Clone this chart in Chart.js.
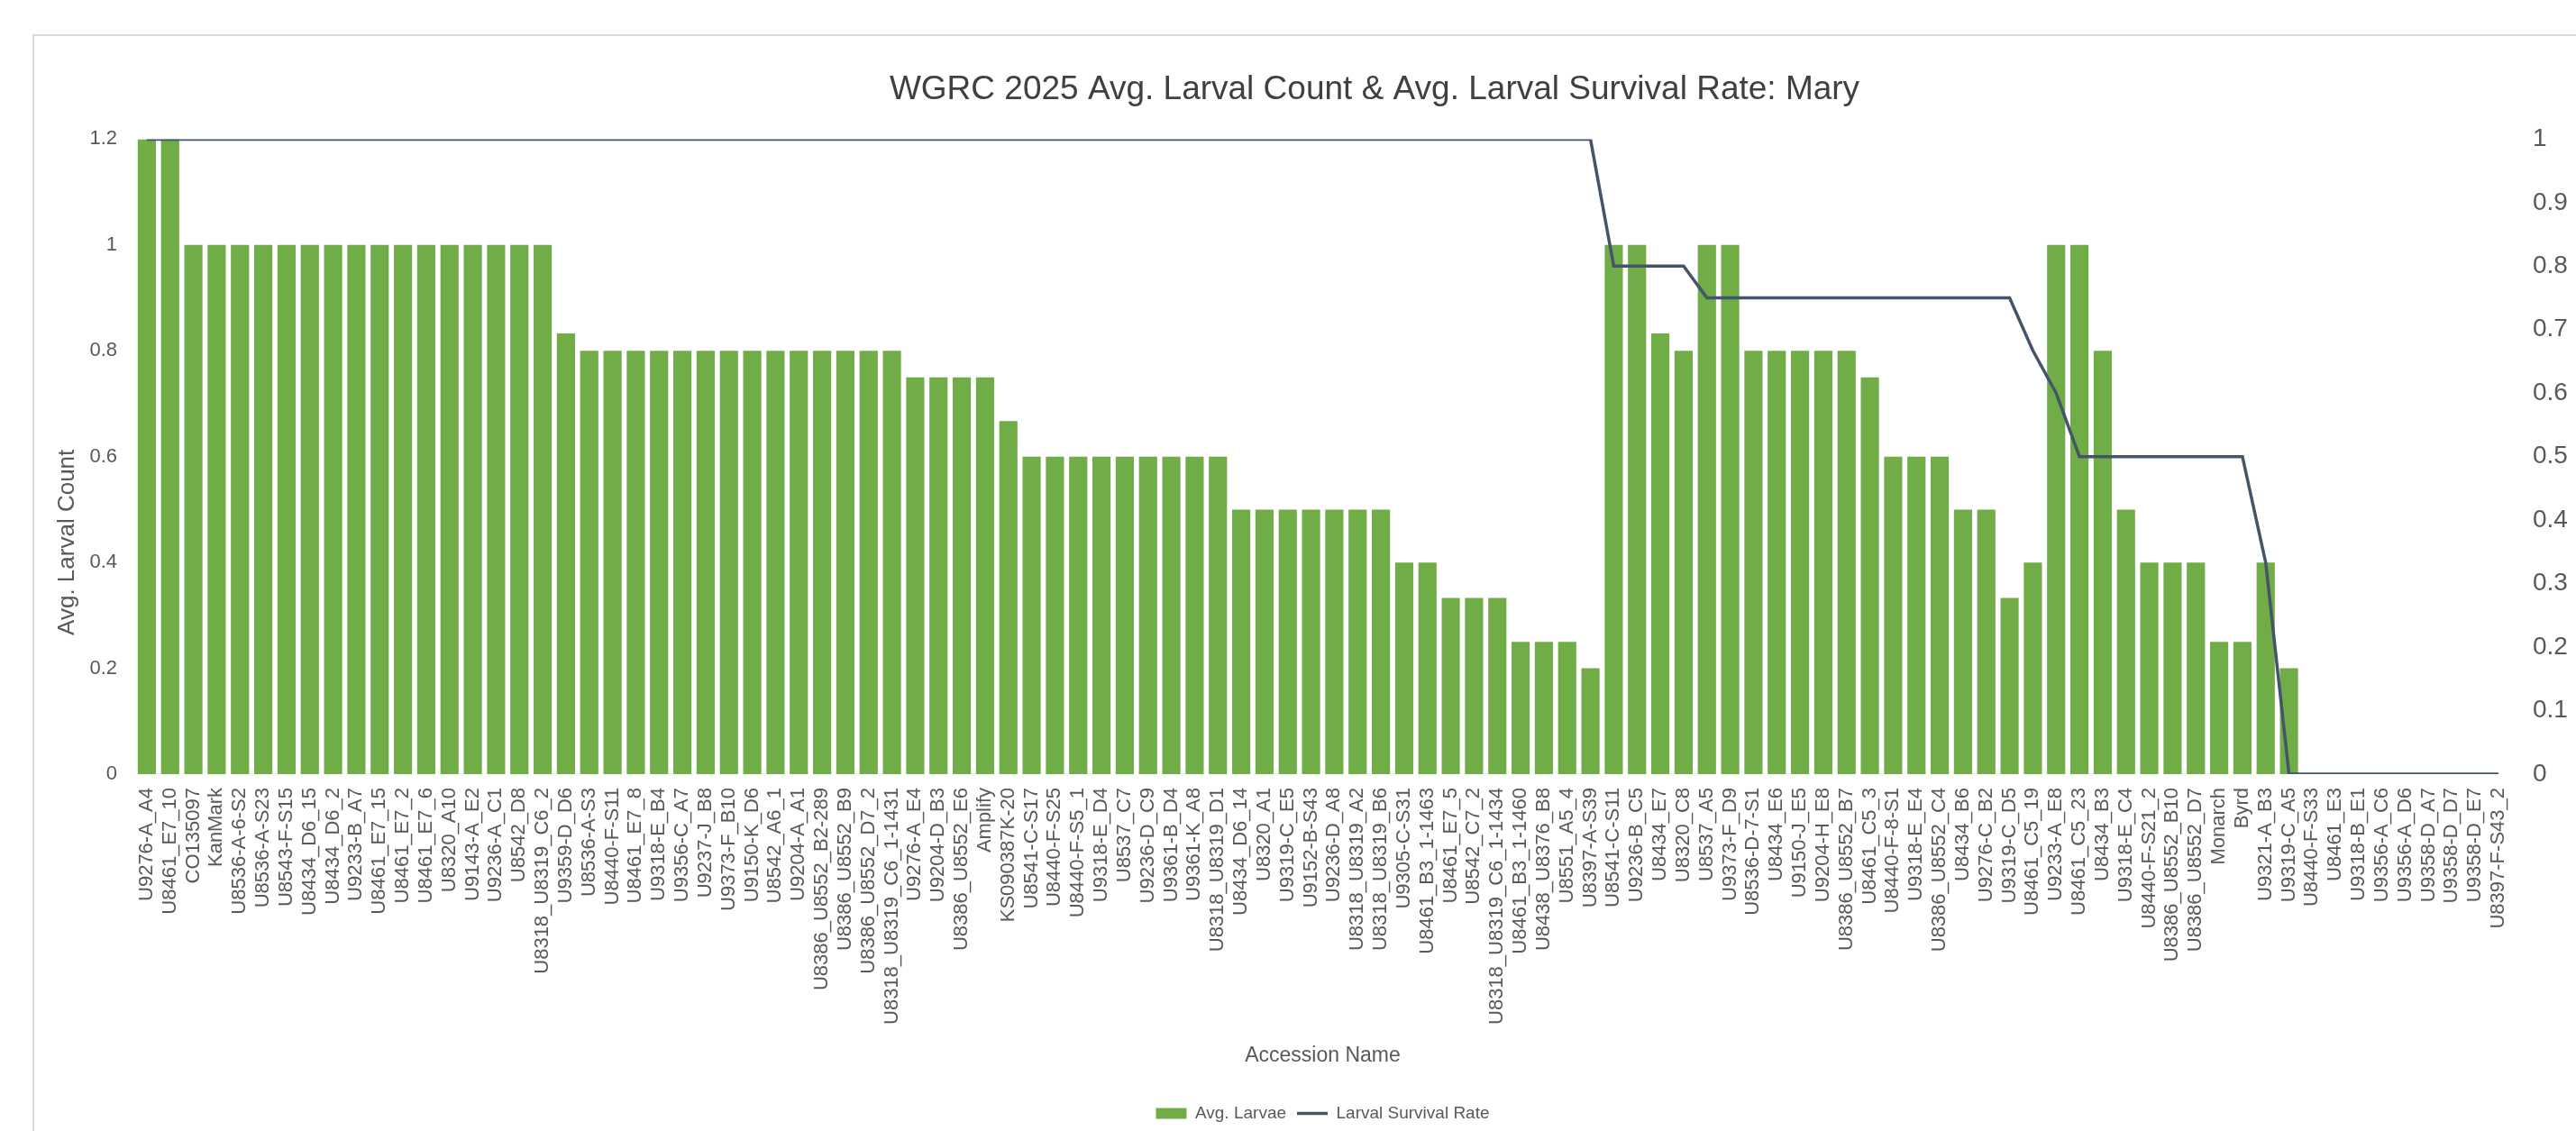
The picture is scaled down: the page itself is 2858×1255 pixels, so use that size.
<!DOCTYPE html>
<html>
<head>
<meta charset="utf-8">
<title>WGRC 2025 - Mary</title>
<script src="https://cdn.jsdelivr.net/npm/chart.js@4.4.1/dist/chart.umd.min.js"></script>
<style>
  html, body { margin: 0; padding: 0; background: #fff; overflow: hidden; }
  #marco {
    position: absolute;
    left: 36px;
    top: 38px;
    width: 3000px;
    height: 1300px;
    border: 2px solid #d9d9d9;
  }
  #grafico { position: absolute; left: 0; top: 0; }
</style>
</head>
<body>
<div id="marco">
  <canvas id="grafico" width="2974" height="1215"></canvas>
</div>
<script>
// nombres de accesiones, en el orden del grafico
const accesiones = [
  'U9276-A_A4', 'U8461_E7_10', 'CO135097', 'KanMark', 'U8536-A-6-S2', 'U8536-A-S23',
  'U8543-F-S15', 'U8434_D6_15', 'U8434_D6_2', 'U9233-B_A7', 'U8461_E7_15', 'U8461_E7_2',
  'U8461_E7_6', 'U8320_A10', 'U9143-A_E2', 'U9236-A_C1', 'U8542_D8', 'U8318_U8319_C6_2',
  'U9359-D_D6', 'U8536-A-S3', 'U8440-F-S11', 'U8461_E7_8', 'U9318-E_B4', 'U9356-C_A7',
  'U9237-J_B8', 'U9373-F_B10', 'U9150-K_D6', 'U8542_A6_1', 'U9204-A_A1', 'U8386_U8552_B2-289',
  'U8386_U8552_B9', 'U8386_U8552_D7_2', 'U8318_U8319_C6_1-1431', 'U9276-A_E4', 'U9204-D_B3', 'U8386_U8552_E6',
  'Amplify', 'KS090387K-20', 'U8541-C-S17', 'U8440-F-S25', 'U8440-F-S5_1', 'U9318-E_D4',
  'U8537_C7', 'U9236-D_C9', 'U9361-B_D4', 'U9361-K_A8', 'U8318_U8319_D1', 'U8434_D6_14',
  'U8320_A1', 'U9319-C_E5', 'U9152-B-S43', 'U9236-D_A8', 'U8318_U8319_A2', 'U8318_U8319_B6',
  'U9305-C-S31', 'U8461_B3_1-1463', 'U8461_E7_5', 'U8542_C7_2', 'U8318_U8319_C6_1-1434', 'U8461_B3_1-1460',
  'U8438_U8376_B8', 'U8551_A5_4', 'U8397-A-S39', 'U8541-C-S11', 'U9236-B_C5', 'U8434_E7',
  'U8320_C8', 'U8537_A5', 'U9373-F_D9', 'U8536-D-7-S1', 'U8434_E6', 'U9150-J_E5',
  'U9204-H_E8', 'U8386_U8552_B7', 'U8461_C5_3', 'U8440-F-8-S1', 'U9318-E_E4', 'U8386_U8552_C4',
  'U8434_B6', 'U9276-C_B2', 'U9319-C_D5', 'U8461_C5_19', 'U9233-A_E8', 'U8461_C5_23',
  'U8434_B3', 'U9318-E_C4', 'U8440-F-S21_2', 'U8386_U8552_B10', 'U8386_U8552_D7', 'Monarch',
  'Byrd', 'U9321-A_B3', 'U9319-C_A5', 'U8440-F-S33', 'U8461_E3', 'U9318-B_E1',
  'U9356-A_C6', 'U9356-A_D6', 'U9358-D_A7', 'U9358-D_D7', 'U9358-D_E7', 'U8397-F-S43_2'
];

// promedio de larvas (eje izquierdo)
const promedioLarvas = [
  1.2, 1.2, 1, 1, 1, 1,
  1, 1, 1, 1, 1, 1,
  1, 1, 1, 1, 1, 1,
  0.833, 0.8, 0.8, 0.8, 0.8, 0.8,
  0.8, 0.8, 0.8, 0.8, 0.8, 0.8,
  0.8, 0.8, 0.8, 0.75, 0.75, 0.75,
  0.75, 0.667, 0.6, 0.6, 0.6, 0.6,
  0.6, 0.6, 0.6, 0.6, 0.6, 0.5,
  0.5, 0.5, 0.5, 0.5, 0.5, 0.5,
  0.4, 0.4, 0.333, 0.333, 0.333, 0.25,
  0.25, 0.25, 0.2, 1, 1, 0.833,
  0.8, 1, 1, 0.8, 0.8, 0.8,
  0.8, 0.8, 0.75, 0.6, 0.6, 0.6,
  0.5, 0.5, 0.333, 0.4, 1, 1,
  0.8, 0.5, 0.4, 0.4, 0.4, 0.25,
  0.25, 0.4, 0.2, 0, 0, 0,
  0, 0, 0, 0, 0, 0
];

// tasa de supervivencia larval (eje derecho, 0-1)
const tasaSupervivencia = [
  1, 1, 1, 1, 1, 1,
  1, 1, 1, 1, 1, 1,
  1, 1, 1, 1, 1, 1,
  1, 1, 1, 1, 1, 1,
  1, 1, 1, 1, 1, 1,
  1, 1, 1, 1, 1, 1,
  1, 1, 1, 1, 1, 1,
  1, 1, 1, 1, 1, 1,
  1, 1, 1, 1, 1, 1,
  1, 1, 1, 1, 1, 1,
  1, 1, 1, 0.8, 0.8, 0.8,
  0.8, 0.75, 0.75, 0.75, 0.75, 0.75,
  0.75, 0.75, 0.75, 0.75, 0.75, 0.75,
  0.75, 0.75, 0.75, 0.667, 0.6, 0.5,
  0.5, 0.5, 0.5, 0.5, 0.5, 0.5,
  0.5, 0.333, 0, 0, 0, 0,
  0, 0, 0, 0, 0, 0
];

const VERDE = '#70AD47';
const AZUL_GRIS = '#44546A';
const GRIS_TEXTO = '#595959';

Chart.defaults.font.family = '"Liberation Sans", Arial, sans-serif';
Chart.defaults.color = GRIS_TEXTO;

const fmt = v => String(Number(Number(v).toFixed(2)));

// el titulo del eje izquierdo esta corrido hacia abajo en el original
const tituloEjeIzq = {
  id: 'tituloEjeIzq',
  afterDraw(chart) {
    const { ctx, chartArea } = chart;
    ctx.save();
    ctx.translate(37, chartArea.top + (chartArea.bottom - chartArea.top) * 0.635);
    ctx.rotate(-Math.PI / 2);
    ctx.font = '26px "Liberation Sans", Arial, sans-serif';
    ctx.fillStyle = GRIS_TEXTO;
    ctx.textAlign = 'center';
    ctx.textBaseline = 'middle';
    ctx.fillText('Avg. Larval Count', 0, 0);
    ctx.restore();
  }
};

const ctx = document.getElementById('grafico').getContext('2d');

window.graficoMary = new Chart(ctx, {
  type: 'bar',
  data: {
    labels: accesiones,
    datasets: [
      {
        type: 'bar',
        label: 'Avg. Larvae',
        data: promedioLarvas,
        backgroundColor: VERDE,
        borderWidth: 0,
        barPercentage: 0.78,
        categoryPercentage: 1,
        yAxisID: 'y',
        pointStyle: 'rect',
        order: 2
      },
      {
        type: 'line',
        label: 'Larval Survival Rate',
        data: tasaSupervivencia,
        borderColor: AZUL_GRIS,
        backgroundColor: AZUL_GRIS,
        borderWidth: 3.5,
        pointRadius: 0,
        tension: 0,
        yAxisID: 'y1',
        pointStyle: 'line',
        order: 1
      }
    ]
  },
  options: {
    responsive: false,
    animation: false,
    layout: { padding: 0 },
    plugins: {
      title: {
        display: true,
        text: 'WGRC 2025 Avg. Larval Count & Avg. Larval Survival Rate: Mary',
        color: '#404040',
        font: { size: 37, weight: 'normal' },
        padding: { top: 38, bottom: 32 }
      },
      legend: {
        position: 'bottom',
        fullSize: false,
        labels: {
          usePointStyle: true,
          pointStyleWidth: 34,
          boxHeight: 12,
          padding: 12,
          color: GRIS_TEXTO,
          font: { size: 19 },
          sort: (a, b) => a.datasetIndex - b.datasetIndex
        }
      },
      tooltip: { enabled: false }
    },
    scales: {
      x: {
        grid: { display: false, drawTicks: false },
        border: { display: false },
        ticks: {
          autoSkip: false,
          minRotation: 90,
          maxRotation: 90,
          padding: 15,
          color: GRIS_TEXTO,
          font: { size: 22 }
        },
        title: {
          display: true,
          text: 'Accession Name',
          color: GRIS_TEXTO,
          font: { size: 23 },
          padding: { top: 0, bottom: 29 }
        },
        afterFit(scale) { scale.height = 355; }
      },
      y: {
        position: 'left',
        min: 0,
        max: 1.2,
        grid: { display: false, drawTicks: false },
        border: { display: false },
        ticks: {
          stepSize: 0.2,
          padding: 20,
          color: GRIS_TEXTO,
          font: { size: 22 },
          callback: fmt
        },
        afterFit(scale) { scale.width = 112; }
      },
      y1: {
        position: 'right',
        min: 0,
        max: 1,
        grid: { display: false, drawTicks: false },
        border: { display: false },
        ticks: {
          stepSize: 0.1,
          padding: 25,
          color: GRIS_TEXTO,
          font: { size: 28 },
          callback: fmt
        },
        afterFit(scale) { scale.width = 227; }
      }
    }
  },
  plugins: [tituloEjeIzq]
});
</script>
</body>
</html>
